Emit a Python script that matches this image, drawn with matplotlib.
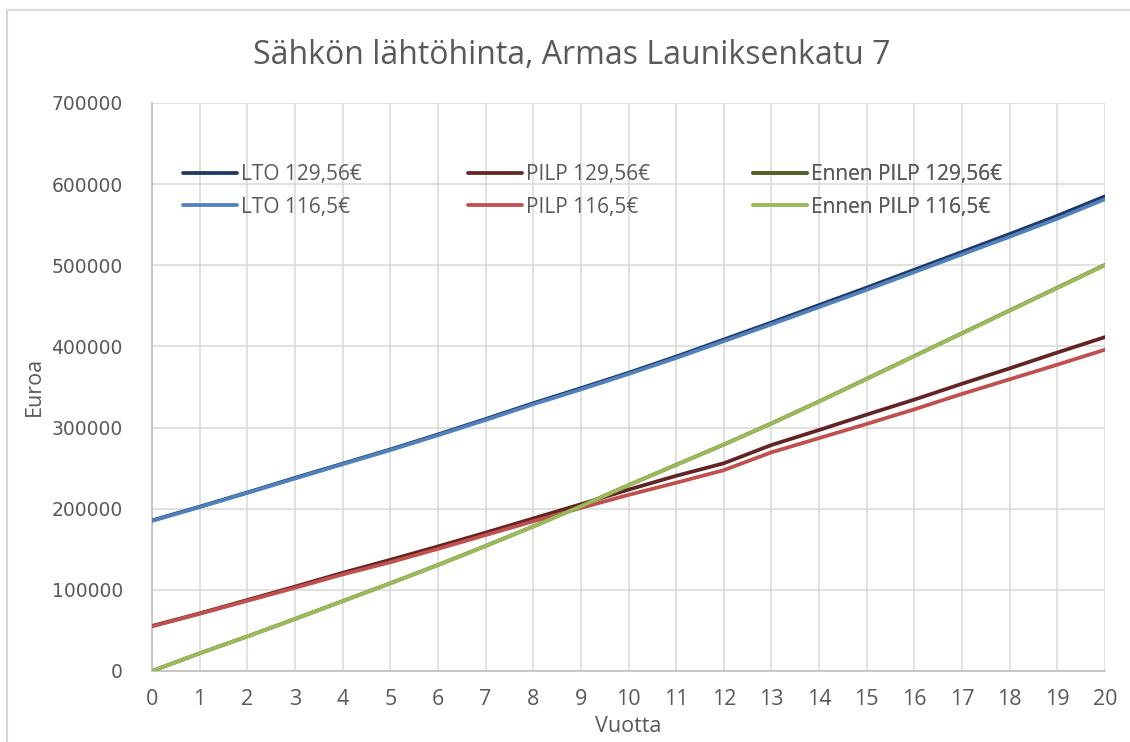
import matplotlib
matplotlib.use('Agg')
import matplotlib.pyplot as plt
from matplotlib.lines import Line2D

plt.rcParams['font.family'] = ['Open Sans', 'DejaVu Sans']

# Years and series values
years = list(range(0, 21))

lto_12956 = [185500, 202500, 220000, 238000, 255500, 273000, 291500, 310500, 330000, 348500,
             367500, 387500, 408500, 429500, 451000, 472500, 494500, 516500, 538500, 561000, 585000]
lto_1165 = [185000, 202000, 219500, 237200, 254800, 272200, 290500, 309300, 328700, 347000,
            366000, 385800, 406500, 427300, 448500, 469800, 491700, 513500, 535200, 557500, 581500]
pilp_12956 = [55500, 71000, 87500, 104000, 121000, 137000, 153500, 170500, 188000, 205500,
              223500, 240500, 256000, 278500, 297000, 316000, 334500, 354000, 373000, 392500, 411500]
pilp_1165 = [55000, 70500, 86500, 102500, 119000, 134000, 150500, 167500, 184500, 201000,
             217000, 232000, 247500, 269500, 287000, 304500, 322500, 341500, 359500, 377500, 396000]
ennen_12956 = [0, 21800, 42600, 64100, 86100, 108100, 130600, 154100, 178100, 203100,
               229100, 254100, 279100, 305100, 332200, 360200, 388200, 416300, 444300, 472400, 500500]
ennen_1165 = [0, 21800, 42500, 64000, 86000, 108000, 130500, 154000, 178000, 203000,
              229000, 254000, 279000, 305000, 332000, 360000, 388000, 416000, 444000, 472000, 500000]

series = [
    ('LTO 129,56€', lto_12956, '#1F3864'),
    ('LTO 116,5€', lto_1165, '#4F81BD'),
    ('PILP 129,56€', pilp_12956, '#632523'),
    ('PILP 116,5€', pilp_1165, '#C0504D'),
    ('Ennen PILP 129,56€', ennen_12956, '#4F6228'),
    ('Ennen PILP 116,5€', ennen_1165, '#9BBB59'),
]

W, H = 1130, 742
fig = plt.figure(figsize=(W / 100, H / 100), dpi=100)
ax = fig.add_axes([152 / W, 1 - 671 / H, (1105 - 152) / W, (671 - 103) / H])

lines = []
for label, vals, color in series:
    ln, = ax.plot(years, vals, color=color, linewidth=2.7, label=label,
                  solid_capstyle='round', zorder=3)
    lines.append(ln)

ax.set_xlim(0, 20)
ax.set_ylim(0, 700000)
ax.set_xticks(years)
ax.set_yticks(range(0, 700001, 100000))
ax.grid(True, color='#D9D9D9', linewidth=1.1)
ax.set_axisbelow(True)
for s in ['top', 'right']:
    ax.spines[s].set_visible(False)
for s in ['left', 'bottom']:
    ax.spines[s].set_color('#BFBFBF')
    ax.spines[s].set_linewidth(1.2)
ax.tick_params(length=0)
ax.tick_params(axis='x', labelsize=15.5, labelcolor='#595959', pad=13)
ax.tick_params(axis='y', labelcolor='#595959', pad=21)
for t in ax.get_yticklabels():
    t.set_fontfamily('DejaVu Sans')
    t.set_fontsize(13.5)

# Axis titles and chart title
fig.text(628 / W, 1 - 727 / H, 'Vuotta', ha='center', va='center', fontsize=15.5, color='#595959')
fig.text(34 / W, 1 - 386 / H, 'Euroa', ha='center', va='center', rotation=90,
         fontsize=15.5, color='#595959')
fig.text(572 / W, 1 - 56 / H, 'Sähkön lähtöhinta, Armas Launiksenkatu 7', ha='center',
         va='center', fontsize=23, color='#595959')

# Legend: three columns, each placed separately
col_x = [183, 468, 753]
for i, x in enumerate(col_x):
    leg = ax.legend(handles=lines[2 * i:2 * i + 2], loc='center left',
                    bbox_to_anchor=(x / W, 1 - 191 / H), bbox_transform=fig.transFigure,
                    frameon=False, fontsize=15, handlelength=2.6, handletextpad=0.2,
                    borderpad=0, borderaxespad=0, labelspacing=0.55, labelcolor='#595959')
    ax.add_artist(leg)

# Chart area border (top and left)
fig.add_artist(Line2D([6.5 / W, 1], [1 - 9.5 / H, 1 - 9.5 / H], color='#D9D9D9', linewidth=1.5,
                      transform=fig.transFigure))
fig.add_artist(Line2D([6.5 / W, 6.5 / W], [0, 1 - 9.5 / H], color='#D9D9D9', linewidth=1.5,
                      transform=fig.transFigure))

fig.savefig('out.png', dpi=100)
